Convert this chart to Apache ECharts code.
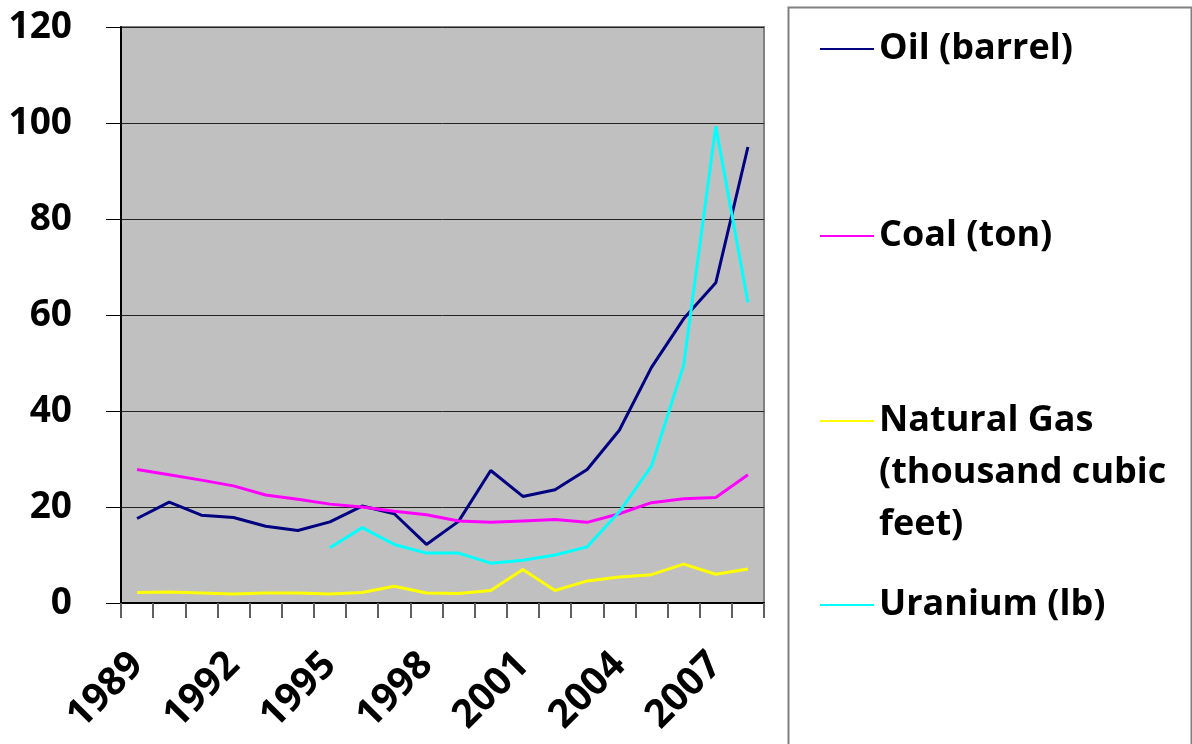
<!DOCTYPE html>
<html>
<head>
<meta charset="utf-8">
<script src="https://cdn.jsdelivr.net/npm/echarts@6/dist/echarts.min.js"></script>
<style>
html,body{margin:0;padding:0;background:#fff;}
#chart{width:1192px;height:744px;}
</style>
</head>
<body>
<div id="chart"></div>
<script>
const years = ['1989','1990','1991','1992','1993','1994','1995','1996','1997','1998','1999','2000','2001','2002','2003','2004','2005','2006','2007','2008'];
const oil = [17.6, 21.0, 18.3, 17.8, 16.0, 15.1, 16.9, 20.2, 18.6, 12.2, 17.0, 27.6, 22.2, 23.6, 27.8, 36.0, 49.1, 59.2, 66.7, 95.0];
const coal = [27.8, 26.7, 25.6, 24.4, 22.5, 21.6, 20.6, 20.0, 19.1, 18.4, 17.1, 16.8, 17.1, 17.4, 16.8, 18.6, 20.9, 21.7, 22.0, 26.7];
const gas = [2.2, 2.3, 2.1, 1.9, 2.1, 2.1, 1.9, 2.2, 3.5, 2.1, 2.0, 2.6, 7.0, 2.6, 4.6, 5.4, 5.9, 8.1, 6.0, 7.1];
const uranium = [null, null, null, null, null, null, 11.5, 15.7, 12.2, 10.4, 10.4, 8.3, 8.9, 10.0, 11.7, 19.0, 28.5, 49.5, 99.3, 62.6];
const yTicks = [0, 20, 40, 60, 80, 100, 120];

const names = ['Oil (barrel)', 'Coal (ton)', 'Natural Gas (thousand cubic feet)', 'Uranium (lb)'];
const colors = ['#000080', '#FF00FF', '#FFFF00', '#00FFFF'];
const dataSets = [oil, coal, gas, uranium];

const FONT = "'Open Sans', 'Liberation Sans', sans-serif";
const chart = echarts.init(document.getElementById('chart'), null, {renderer: 'canvas'});

function legendFor(i, centerY, multi) {
  const lh = 52;
  const base = {
    show: true,
    orient: 'vertical',
    left: 820,
    data: [{name: names[i], icon: 'rect'}],
    itemWidth: 54,
    itemHeight: 2,
    selectedMode: false,
    padding: 0,
    textStyle: {fontFamily: FONT, fontWeight: 'bold', fontSize: 36, color: '#000', lineHeight: lh}
  };
  if (multi) {
    base.formatter = function () { return ' \n \nNatural Gas\n(thousand cubic\nfeet)'; };
    base.top = centerY - 2.5 * lh;
  } else {
    base.top = centerY - lh / 2;
  }
  return base;
}

const option = {
  backgroundColor: '#fff',
  animation: false,
  grid: {
    left: 121, right: 428, top: 27, bottom: 141,
    show: true, backgroundColor: '#C0C0C0', borderColor: '#808080', borderWidth: 2
  },
  graphic: [{
    type: 'rect', left: 786, top: 5,
    shape: {x: 0, y: 0, width: 403, height: 800},
    style: {fill: 'none', stroke: '#808080', lineWidth: 2}, z: 0
  }],
  legend: [
    legendFor(0, 49, false),
    legendFor(1, 236, false),
    legendFor(2, 421, true),
    legendFor(3, 605, false)
  ],
  xAxis: {
    type: 'category',
    data: years,
    boundaryGap: true,
    axisLine: {show: true, lineStyle: {color: '#000', width: 2}},
    axisTick: {show: true, interval: 0, length: 15, lineStyle: {color: '#606060', width: 2}},
    axisLabel: {
      interval: 2, rotate: 45, margin: 56,
      fontFamily: FONT, fontWeight: 'bold', fontSize: 39, color: '#000'
    },
    splitLine: {show: false}
  },
  yAxis: {
    type: 'value',
    min: yTicks[0], max: yTicks[yTicks.length - 1], interval: 20,
    axisLine: {show: true, lineStyle: {color: '#000', width: 2}},
    axisTick: {show: true, length: 15, lineStyle: {color: '#000', width: 1}},
    axisLabel: {margin: 49, fontFamily: FONT, fontWeight: 'bold', fontSize: 37, color: '#000'},
    splitLine: {show: true, lineStyle: {color: '#222', width: 1}}
  },
  series: dataSets.map((d, i) => ({
    name: names[i],
    type: 'line',
    data: d,
    symbol: 'none',
    showSymbol: false,
    connectNulls: false,
    lineStyle: {color: colors[i], width: 3},
    itemStyle: {color: colors[i]},
    z: 3
  }))
};
chart.setOption(option);
</script>
</body>
</html>
